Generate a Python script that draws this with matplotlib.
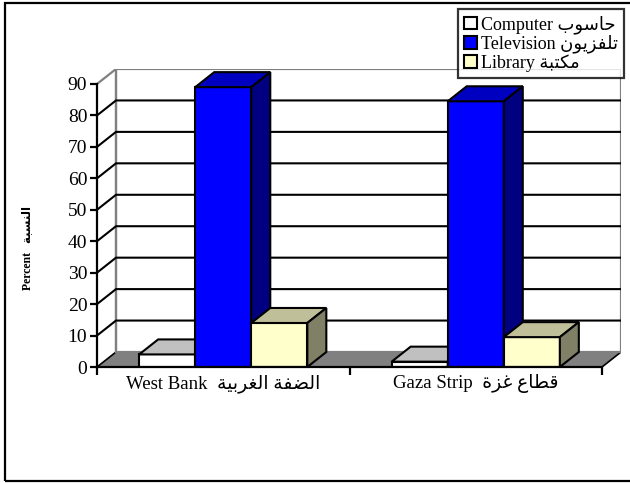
import matplotlib
matplotlib.use("Agg")
import matplotlib.pyplot as plt
from matplotlib.patches import Polygon, Rectangle, Patch

plt.rcParams['font.family'] = ['Liberation Serif', 'DejaVu Sans']

# Arabic words are written in presentation forms, visual (left-to-right) order,
# because matplotlib does no shaping or bidi reordering
computer_ar = "\ufe8f\ufeee\ufeb3\ufe8e\ufea3"                  # حاسوب
television_ar = "\ufee5\ufeee\ufef3\ufeb0\ufed4\ufee0\ufe97"    # تلفزيون
library_ar = "\ufe94\ufe92\ufe98\ufedc\ufee3"                   # مكتبة
westbank_ar = "\ufe94\ufef4\ufe91\ufeae\ufed0\ufedf\ufe8d \ufe94\ufed4\ufec0\ufedf\ufe8d"  # الضفة الغربية
gaza_ar = "\ufe93\ufeb0\ufecf \ufec9\ufe8e\ufec4\ufed7"         # قطاع غزة
percent_ar = "\ufe94\ufe92\ufeb4\ufee8\ufedf\ufe8d"             # النسبة

# data
categories = ["West Bank  " + westbank_ar, "Gaza Strip  " + gaza_ar]
series = ["Computer " + computer_ar, "Television " + television_ar, "Library " + library_ar]
computer = [4, 1.7]
television = [89, 84.5]
library = [14, 9.5]
yticks = [0, 10, 20, 30, 40, 50, 60, 70, 80, 90]

values = [computer, television, library]
front_colors = ['#FFFFFF', '#0000FF', '#FFFFCC']
top_colors = ['#C0C0C0', '#0000C0', '#BFBF99']
side_colors = ['#808080', '#000080', '#808066']

# pseudo 3d depth, in data units
DX = 0.0752
DY = 4.77
w = 0.222
ymax = 90

fig = plt.figure(figsize=(6.3, 4.83), dpi=100)
W, H = 630, 483
ax = fig.add_axes([97 / W, (H - 367) / H, (621 - 97) / W, (367 - 69) / H])
ax.set_xlim(0, len(categories) + DX)
ax.set_ylim(0, ymax + DY)

# outer frame (right side falls off the picture)
fig.patches.append(Rectangle((5 / W, 2 / H), 1.0, (478 / H), transform=fig.transFigure,
                             fill=False, edgecolor='black', lw=1.6))

n = len(categories)
# floor
ax.add_patch(Polygon([(0, 0), (n, 0), (n + DX, DY), (DX, DY)], closed=True,
                     facecolor='#808080', edgecolor='black', lw=1.2, zorder=1))
# back wall
ax.add_patch(Rectangle((DX, DY), n, ymax, facecolor='white', edgecolor='#808080',
                       lw=1.6, zorder=1))
ax.plot([DX, DX], [DY, ymax + DY], color='#808080', lw=1.6, zorder=1)
ax.plot([0, DX], [ymax, ymax + DY], color='#808080', lw=1.6, zorder=1)
# gridlines on side and back walls
for v in yticks[1:-1]:
    ax.plot([0, DX, n + DX], [v, v + DY, v + DY], color='black', lw=1.5, zorder=2,
            solid_joinstyle='miter')

# bars
for i in range(n):
    for j in range(len(series)):
        h = values[j][i]
        x0 = i + 0.5 + (j - 1.5) * w
        ax.add_patch(Rectangle((x0, 0), w, h, facecolor=front_colors[j],
                               edgecolor='black', lw=1.5, zorder=3))
        ax.add_patch(Polygon([(x0, h), (x0 + w, h), (x0 + w + DX, h + DY), (x0 + DX, h + DY)],
                             closed=True, facecolor=top_colors[j], edgecolor='black',
                             lw=1.5, zorder=3))
        ax.add_patch(Polygon([(x0 + w, 0), (x0 + w + DX, DY), (x0 + w + DX, h + DY), (x0 + w, h)],
                             closed=True, facecolor=side_colors[j], edgecolor='black',
                             lw=1.5, zorder=3))

# axes
for s in ['top', 'right']:
    ax.spines[s].set_visible(False)
ax.spines['left'].set_bounds(0, ymax)
ax.spines['bottom'].set_bounds(0, n)
for s in ['left', 'bottom']:
    ax.spines[s].set_linewidth(1.6)
    ax.spines[s].set_zorder(4)
ax.set_yticks(yticks)
ax.tick_params(axis='y', direction='out', length=5, width=1.6, labelsize=14, pad=2)
ax.set_xticks(range(n + 1))
ax.set_xticklabels([])
ax.set_xticks([i + 0.5 for i in range(n)], minor=True)
ax.set_xticklabels(categories, minor=True, fontsize=13.5)
ax.tick_params(axis='x', which='major', direction='out', length=6, width=1.6)
ax.tick_params(axis='x', which='minor', length=0, pad=5)
ax.set_ylabel("Percent   " + percent_ar, fontsize=8.5, fontweight='bold')
ax.yaxis.set_label_coords(-0.122, 0.4)

# legend
handles = [Patch(facecolor=front_colors[j], edgecolor='black', lw=1.5) for j in range(len(series))]
leg = fig.legend(handles, series, loc='upper right', bbox_to_anchor=(624 / W, 1 - 9 / H),
                 fontsize=13, frameon=True, fancybox=False, edgecolor='black',
                 handlelength=0.7, handleheight=0.7, handletextpad=0.2,
                 labelspacing=0.05, borderpad=0.35, borderaxespad=0)
leg.get_frame().set_linewidth(1.6)

fig.savefig("out.png", dpi=100)
